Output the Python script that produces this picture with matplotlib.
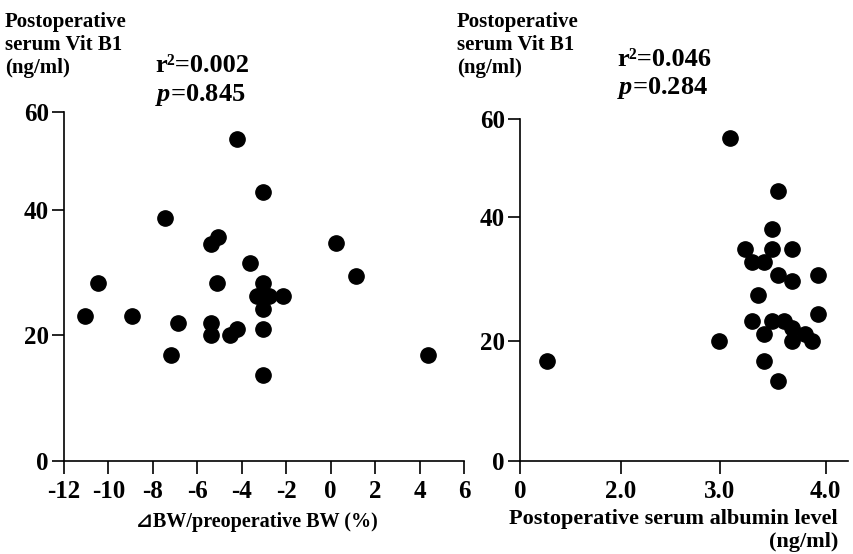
import numpy as np
import matplotlib
matplotlib.use("Agg")
import matplotlib.pyplot as plt

# left panel: change in body weight (%) vs postoperative serum Vit B1 (ng/ml)
bw_change = [-4.20, -3.03, -7.47, -5.08, -5.40, 0.23, -3.63, 1.13, -10.46, -5.10,
             -3.03, -3.31, -2.77, -2.13, -3.03, -11.05, -8.95, -6.88, -5.40, -5.40,
             -4.20, -4.53, -3.03, -7.17, 4.38, -3.03]
vitb1_left = [54.4, 43.7, 38.8, 35.7, 34.6, 34.7, 31.5, 29.4, 28.3, 28.3,
              28.4, 26.2, 26.2, 26.2, 24.1, 23.0, 23.0, 22.0, 22.0, 20.0,
              21.0, 20.0, 21.0, 16.8, 16.8, 13.7]

# right panel: postoperative serum albumin vs postoperative serum Vit B1
albumin = [3.10, 3.55, 3.49, 3.24, 3.49, 3.68, 3.30, 3.42, 3.55, 3.93,
           3.68, 3.36, 3.93, 3.30, 3.49, 3.61, 3.68, 3.42, 3.80, 2.99,
           3.68, 3.87, 0.53, 3.42, 3.55]
vitb1_right = [56.1, 45.4, 38.0, 34.8, 34.8, 34.8, 32.7, 32.7, 30.6, 30.6,
               29.6, 27.4, 24.3, 23.2, 23.2, 23.2, 22.1, 21.1, 21.1, 20.0,
               20.0, 20.0, 16.7, 16.7, 13.4]

y_ticks = [0, 20, 40, 60]
left_x_ticks = [-12, -10, -8, -6, -4, -2, 0, 2, 4, 6]
right_x_ticks = [0, 2, 3, 4]
right_x_labels = ["0", "2.0", "3.0", "4.0"]


def piecewise(xs, ys):
    # piecewise linear map with straight extrapolation (hand drawn axes)
    xs = np.asarray(xs, float)
    ys = np.asarray(ys, float)

    def f(v):
        v = np.asarray(v, float)
        out = np.interp(v, xs, ys)
        lo = ys[0] + (v - xs[0]) * (ys[1] - ys[0]) / (xs[1] - xs[0])
        hi = ys[-1] + (v - xs[-1]) * (ys[-1] - ys[-2]) / (xs[-1] - xs[-2])
        out = np.where(v < xs[0], lo, out)
        out = np.where(v > xs[-1], hi, out)
        return out
    return f


plt.rcParams["font.family"] = ["Liberation Serif", "DejaVu Sans"]
plt.rcParams["font.weight"] = "bold"
plt.rcParams["mathtext.fontset"] = "custom"
plt.rcParams["mathtext.it"] = "Liberation Serif:italic:bold"
plt.rcParams["mathtext.rm"] = "Liberation Serif:bold"

fig = plt.figure(figsize=(8.54, 5.54), dpi=100)

ax1 = fig.add_axes([64 / 854, 93 / 554, 400 / 854, 349 / 554])
ax2 = fig.add_axes([520 / 854, 93 / 554, 328 / 854, 342 / 554])

ax1.set_yscale("function", functions=(piecewise(y_ticks, [0, 126, 251, 349]),
                                      piecewise([0, 126, 251, 349], y_ticks)))
ax2.set_yscale("function", functions=(piecewise(y_ticks, [0, 120, 244, 342]),
                                      piecewise([0, 120, 244, 342], y_ticks)))
ax2.set_xscale("function", functions=(piecewise([0, 2, 3, 4], [0, 100, 198, 303]),
                                      piecewise([0, 100, 198, 303], [0, 2, 3, 4])))

ax1.plot(bw_change, vitb1_left, "o", color="black", markersize=11, clip_on=False)
ax2.plot(albumin, vitb1_right, "o", color="black", markersize=11, clip_on=False)

ax1.set_xlim(-12, 6)
ax2.set_xlim(0, 4.21)
for ax in (ax1, ax2):
    ax.set_ylim(0, 60)
    ax.set_yticks(y_ticks)
    ax.spines["top"].set_visible(False)
    ax.spines["right"].set_visible(False)
    ax.spines["left"].set_linewidth(1.2)
    ax.spines["bottom"].set_linewidth(1.2)
    ax.tick_params(axis="both", direction="out", length=9, width=1.2,
                   labelsize=18)
    ax.tick_params(axis="y", pad=2)
    ax.tick_params(axis="x", pad=5)
    ax.minorticks_off()

ax1.set_xticks(left_x_ticks)
ax1.set_xticklabels([str(t) for t in left_x_ticks])
ax2.set_xticks(right_x_ticks)
ax2.set_xticklabels(right_x_labels)

ylab = "Postoperative\nserum Vit B1\n(ng/ml)"
fig.text(5 / 854, 1 - 12 / 554, ylab, ha="left", va="top", fontsize=15,
         linespacing=1.2)
fig.text(457 / 854, 1 - 12 / 554, ylab, ha="left", va="top", fontsize=15,
         linespacing=1.2)

fig.text(155 / 854, 1 - 66 / 554, "r²=0.002", ha="left", va="center", fontsize=19)
fig.text(155 / 854, 1 - 95 / 554, r"$p$=0.845", ha="left", va="center", fontsize=19)
fig.text(617 / 854, 1 - 59 / 554, "r²=0.046", ha="left", va="center", fontsize=19)
fig.text(617 / 854, 1 - 88 / 554, r"$p$=0.284", ha="left", va="center", fontsize=19)

fig.text(257 / 854, 1 - 522 / 554, "⊿BW/preoperative BW (%)", ha="center",
         va="center", fontsize=14.5,
         family=["Liberation Serif", "DejaVu Sans"])
fig.text(838 / 854, 1 - 519 / 554, "Postoperative serum albumin level",
         ha="right", va="center", fontsize=16)
fig.text(838 / 854, 1 - 542 / 554, "(ng/ml)", ha="right", va="center", fontsize=16)

fig.savefig("out.png", dpi=100)
